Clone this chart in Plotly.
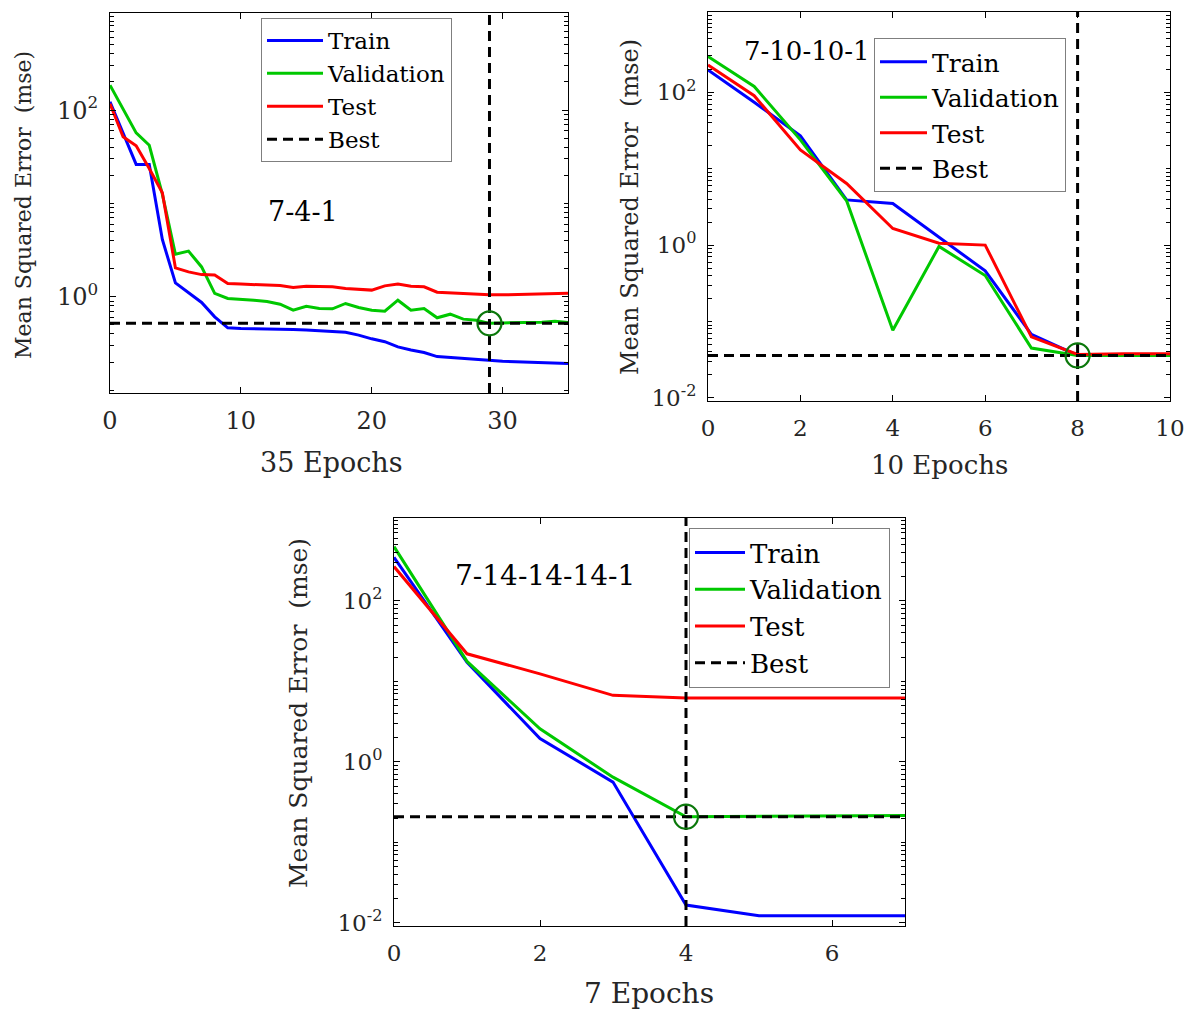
import plotly.graph_objects as go

# ---------------- data ----------------
# Panel 1 : 7-4-1 network, 35 epochs
tl_epochs = list(range(36))
tl_train = [123, 56, 26.2, 26.2, 4.11, 1.41, 1.10, 0.87, 0.61, 0.466, 0.457, 0.456,
            0.454, 0.451, 0.447, 0.442, 0.436, 0.428, 0.417, 0.389, 0.355, 0.331,
            0.291, 0.269, 0.253, 0.229, 0.224, 0.216, 0.213, 0.206, 0.204, 0.202,
            0.200, 0.197, 0.195, 0.193]
tl_val = [185, 104, 57, 42, 12.6, 2.86, 3.09, 2.09, 1.09, 0.96, 0.944, 0.92,
          0.89, 0.834, 0.72, 0.794, 0.75, 0.745, 0.849, 0.769, 0.72, 0.702,
          0.92, 0.72, 0.75, 0.596, 0.652, 0.577, 0.562, 0.52, 0.526, 0.526,
          0.531, 0.535, 0.548, 0.531]
tl_test = [117, 51.8, 41.5, 23.7, 13.0, 2.04, 1.85, 1.73, 1.71, 1.39, 1.37, 1.36,
           1.33, 1.32, 1.26, 1.30, 1.29, 1.28, 1.23, 1.21, 1.18, 1.31,
           1.37, 1.30, 1.28, 1.12, 1.10, 1.09, 1.07, 1.05, 1.05, 1.06,
           1.07, 1.07, 1.09, 1.09]
tl_best_epoch = 29
tl_best_value = 0.52

# Panel 2 : 7-10-10-1 network, 10 epochs
tr_epochs = list(range(11))
tr_train = [196, 74, 27, 3.9, 3.5, 1.27, 0.46, 0.068, 0.036, 0.036, 0.036]
tr_val = [293, 119, 23.8, 3.8, 0.077, 0.96, 0.40, 0.045, 0.036, 0.036, 0.036]
tr_test = [228, 90, 17.6, 6.4, 1.65, 1.06, 1.0, 0.063, 0.037, 0.038, 0.038]
tr_best_epoch = 8
tr_best_value = 0.036

# Panel 3 : 7-14-14-14-1 network, 7 epochs
bt_epochs = list(range(8))
bt_train = [348, 17.2, 1.95, 0.56, 0.0166, 0.0122, 0.0122, 0.0122]
bt_val = [472, 17.7, 2.57, 0.645, 0.208, 0.212, 0.214, 0.216]
bt_test = [267, 22, 12.4, 6.7, 6.2, 6.2, 6.2, 6.2]
bt_best_epoch = 4
bt_best_value = 0.208

series_names = ["Train", "Validation", "Test", "Best"]
panel_labels = ["7-4-1", "7-10-10-1", "7-14-14-14-1"]
x_titles = ["35 Epochs", "10 Epochs", "7 Epochs"]
y_title = "Mean Squared Error  (mse)"
ytick_vals_tl = [1, 100]
ytick_text_tl = ["10<sup>0</sup>", "10<sup>2</sup>"]
ytick_vals = [0.01, 1, 100]
ytick_text = ["10<sup>-2</sup>", "10<sup>0</sup>", "10<sup>2</sup>"]

# ---------------- styling ----------------
W, H = 1189, 1011
FONT = "DejaVu Serif"
TXT = "#262626"
C_TRAIN, C_VAL, C_TEST = "#0000ff", "#00c800", "#ff0000"
C_CIRCLE = "#0b780b"


def px_x(p):
    return p / W


def px_y(p):
    return 1 - p / H


minor_vals = [m * 10 ** e for e in range(-3, 4) for m in range(1, 10)]

panels = [
    dict(ax="", leg="legend", epochs=tl_epochs, train=tl_train, val=tl_val, test=tl_test,
         be=tl_best_epoch, bv=tl_best_value, xmax=35, dtick=10,
         xdom=[px_x(110), px_x(568)], ydom=[px_y(393), px_y(13)], yr=[-1.03, 3.04],
         tv=ytick_vals_tl, tt=ytick_text_tl, xt=x_titles[0], lab=panel_labels[0],
         labpos=(303, 211), labsize=27, tick=24, xtsize=27, ytsize=22, leg_pos=(261, 18),
         legsize=23, itemw=56, entw=148, xtpos=(331, 462), ytpos=(24, 205)),
    dict(ax="2", leg="legend2", epochs=tr_epochs, train=tr_train, val=tr_val, test=tr_test,
         be=tr_best_epoch, bv=tr_best_value, xmax=10, dtick=2,
         xdom=[px_x(708), px_x(1170)], ydom=[px_y(401), px_y(12)], yr=[-2.04, 3.05],
         tv=ytick_vals, tt=ytick_text, xt=x_titles[1], lab=panel_labels[1],
         labpos=(807, 51), labsize=26, tick=23, xtsize=26, ytsize=24, leg_pos=(874, 38),
         legsize=25, itemw=47, entw=0, xtpos=(939, 465), ytpos=(630, 207)),
    dict(ax="3", leg="legend3", epochs=bt_epochs, train=bt_train, val=bt_val, test=bt_test,
         be=bt_best_epoch, bv=bt_best_value, xmax=7, dtick=2,
         xdom=[px_x(394), px_x(905)], ydom=[px_y(926), px_y(518)], yr=[-2.04, 3.03],
         tv=ytick_vals, tt=ytick_text, xt=x_titles[2], lab=panel_labels[2],
         labpos=(545, 575), labsize=28, tick=23, xtsize=28, ytsize=25, leg_pos=(689, 528),
         legsize=26, itemw=50, entw=0, xtpos=(649, 993), ytpos=(298, 713)),
]

fig = go.Figure()
layout = dict(
    width=W, height=H, margin=dict(l=0, r=0, t=0, b=0, autoexpand=False),
    paper_bgcolor="white", plot_bgcolor="white",
    font=dict(family=FONT, color=TXT), annotations=[],
)

for p in panels:
    xa = "x" + p["ax"]
    ya = "y" + p["ax"]
    common = dict(xaxis=xa, yaxis=ya, legend=p["leg"], mode="lines")
    fig.add_trace(go.Scatter(x=p["epochs"], y=p["train"], name=series_names[0],
                             line=dict(color=C_TRAIN, width=3), **common))
    fig.add_trace(go.Scatter(x=p["epochs"], y=p["val"], name=series_names[1],
                             line=dict(color=C_VAL, width=3), **common))
    fig.add_trace(go.Scatter(x=p["epochs"], y=p["test"], name=series_names[2],
                             line=dict(color=C_TEST, width=3), **common))
    ylo, yhi = 10 ** p["yr"][0], 10 ** p["yr"][1]
    fig.add_trace(go.Scatter(
        x=[0, p["xmax"], None, p["be"], p["be"]],
        y=[p["bv"], p["bv"], None, ylo, yhi],
        name=series_names[3], connectgaps=False,
        line=dict(color="black", width=3, dash="10px,6px"), **common))
    fig.add_trace(go.Scatter(
        x=[p["be"]], y=[p["bv"]], mode="markers", showlegend=False,
        marker=dict(symbol="circle-open", size=24, color=C_CIRCLE,
                    line=dict(width=2.2, color=C_CIRCLE)),
        xaxis=xa, yaxis=ya, legend=p["leg"]))

    xkey = "xaxis" + p["ax"]
    ykey = "yaxis" + p["ax"]
    layout[xkey] = dict(
        domain=p["xdom"], anchor=ya, range=[0, p["xmax"]], dtick=p["dtick"], tick0=0,
        showline=True, linecolor="black", linewidth=1, mirror="allticks",
        ticks="inside", ticklen=6, tickcolor="black", showgrid=False, zeroline=False,
        tickfont=dict(size=p["tick"], color=TXT), ticklabelstandoff=6,
        automargin=False,
    )
    layout[ykey] = dict(
        domain=p["ydom"], anchor=xa, type="log", range=p["yr"],
        tickmode="array", tickvals=p["tv"], ticktext=p["tt"],
        showline=True, linecolor="black", linewidth=1, mirror="allticks",
        ticks="inside", ticklen=6, tickcolor="black", showgrid=False, zeroline=False,
        minor=dict(tickmode="array", tickvals=minor_vals, ticks="inside", ticklen=4,
                   tickcolor="black", showgrid=False),
        tickfont=dict(size=p["tick"], color=TXT), ticklabelstandoff=6,
        automargin=False,
    )
    leg = dict(
        x=px_x(p["leg_pos"][0]), y=px_y(p["leg_pos"][1]), xanchor="left", yanchor="top",
        bgcolor="white", bordercolor="#7f7f7f", borderwidth=1,
        font=dict(size=p["legsize"], color="black", family=FONT),
        itemwidth=p["itemw"], tracegroupgap=0,
    )
    if p["entw"]:
        leg["entrywidth"] = p["entw"]
        leg["entrywidthmode"] = "pixels"
    layout[p["leg"]] = leg
    # panel label
    layout["annotations"].append(dict(
        text=p["lab"], xref="paper", yref="paper",
        x=px_x(p["labpos"][0]), y=px_y(p["labpos"][1]),
        xanchor="center", yanchor="middle", showarrow=False,
        font=dict(size=p["labsize"], color="black", family=FONT)))
    # axis titles
    layout["annotations"].append(dict(
        text=p["xt"], xref="paper", yref="paper",
        x=px_x(p["xtpos"][0]), y=px_y(p["xtpos"][1]),
        xanchor="center", yanchor="middle", showarrow=False,
        font=dict(size=p["xtsize"], color=TXT, family=FONT)))
    layout["annotations"].append(dict(
        text=y_title, xref="paper", yref="paper", textangle=-90,
        x=px_x(p["ytpos"][0]), y=px_y(p["ytpos"][1]),
        xanchor="center", yanchor="middle", showarrow=False,
        font=dict(size=p["ytsize"], color=TXT, family=FONT)))

fig.update_layout(**layout)
fig.write_html(
    "out.html",
    config={"displayModeBar": False},
    post_script="document.body.style.margin='0';document.body.style.overflow='hidden';",
)
